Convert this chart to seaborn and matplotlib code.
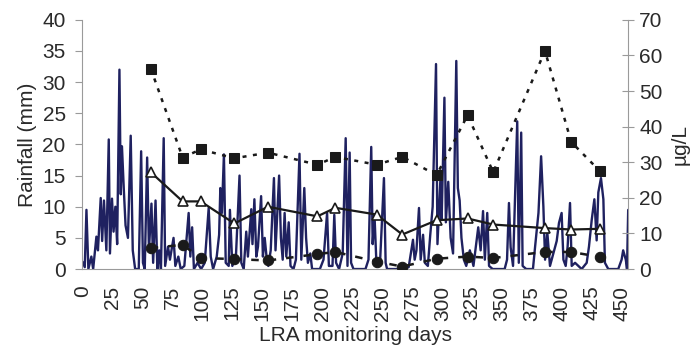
import matplotlib
matplotlib.use("Agg")
import matplotlib.pyplot as plt
import seaborn as sns
import pandas as pd

# ---------------- data ----------------
rain_day = [0, 2, 3.4, 5, 7.5, 9, 11.7, 13, 15.3, 16.5, 18, 20, 22, 23, 24.7, 26, 27.5, 29, 30.9, 32, 33,
            34.5, 36, 38, 40.3, 42, 44, 47, 49, 50.5, 52, 54, 55.5, 57.6, 59, 61, 62.5, 64, 65.5, 67.8, 69,
            71.4, 73, 76, 77.5, 80, 82, 85, 88.6, 90, 91.5, 93, 96, 99, 102, 105.3, 107, 109, 112, 114, 115,
            116.3, 118, 119.5, 122, 123, 125, 128, 131, 132.5, 134.5, 136.6, 138, 140.8, 141.8, 143.4, 145,
            146.4, 149, 150.5, 152, 153.5, 155, 157, 159.7, 161, 164, 165.5, 167, 168.6, 170, 172, 173.5, 176,
            178, 181, 182.5, 185, 186.5, 188, 190, 191.5, 194, 198, 201, 204, 205.5, 208.5, 210, 211.5, 214,
            217, 219.5, 221, 222.8, 224, 226, 229, 233, 236, 238.5, 240.8, 242, 243.5, 245, 248, 251.4, 252.8,
            254, 260, 266, 272, 275.6, 277, 278.5, 280.6, 282, 284, 285.5, 288, 290, 292, 294.8, 296, 298.7,
            299.5, 301.8, 303, 305, 307, 309, 311.7, 313, 314.5, 316, 318, 320, 323, 326, 330, 332, 334, 335.5,
            337.5, 339, 342, 348, 352, 354, 355.6, 357, 359, 362.5, 363.8, 365.8, 367, 370, 375.6, 377.4, 380.2,
            382.4, 384.3, 385.7, 387.6, 389.8, 392.6, 395.4, 397.3, 399.5, 401, 402.9, 404.5, 406.5, 407.9,
            410.7, 413.4, 416.2, 420.4, 422.3, 424.6, 426.8, 428.7, 430.1, 432.3, 434.3, 435.6, 438.4, 446.7,
            449.5, 450.8, 453, 454, 455]
rain_mm = [1.2, 0.3, 9.5, 0, 2, 0, 5.2, 3, 11.4, 4.5, 11, 3, 20.8, 2.5, 11.3, 6, 10, 4, 32, 12, 19.7,
           13, 7, 5, 21.4, 3, 0, 0, 18.9, 1, 0, 17.9, 3, 10.5, 1, 11, 0, 3, 0, 21, 0.5,
           3.6, 1.5, 5, 0.5, 2, 0, 0.5, 9, 2, 6.7, 0, 1, 0, 1, 9.8, 2, 0, 2, 5.5, 13,
           9, 18.4, 1, 0.5, 9.5, 0.5, 2, 15, 1, 0, 6, 2, 9.6, 4, 11.2, 2,
           3.6, 11.7, 2, 5, 2, 0.5, 3, 14.6, 3, 15, 5, 1.5, 9, 2, 7.5, 0.5, 0,
           1.5, 18.5, 1.5, 13, 5, 1, 2.5, 0, 0, 0, 1.5, 9, 0.5, 0.5, 8.7, 1, 0,
           2.5, 21, 0.5, 18.7, 1, 0, 0, 0, 0, 1.5, 19.6, 4, 8.7, 1.5, 0.5, 14.6, 1,
           0, 0, 0, 0.3, 4.7, 1.5, 3, 9.8, 1.5, 5.5, 1, 0.5, 5.5, 10, 32.9, 4, 15.4,
           8, 27.5, 7.5, 14, 5, 2.5, 33.4, 13, 11, 5, 1.5, 0.5, 3, 0.5, 6.7, 3, 9.3, 1.5,
           9, 0.5, 0, 0, 0, 1.5, 10.6, 3.5, 0.5, 23.7, 1, 21.9, 0.5, 0, 0, 3.6, 9,
           18.1, 10, 1.5, 5.8, 0.5, 2.5, 4.5, 7.4, 9, 1.5, 0.5, 3.6, 10.6, 0.5,
           1, 0.5, 0, 1, 3.6, 7.9, 11.2, 4.6, 12.3, 14.6, 11.2, 1, 0, 0,
           1.5, 3, 1.5, 0, 9.5]

sample_day = [57, 83.6, 98.6, 126.7, 154.7, 195.9, 210.9, 245.3, 266.7, 295.3, 321.1, 342.5, 385.6, 407.5, 431.4]
square_ugL = [56.3, 31.3, 33.6, 31.1, 32.7, 29.3, 31.5, 29.3, 31.5, 26.4, 43.2, 27.2, 61.3, 35.7, 27.5]
triangle_ugL = [27.2, 19.0, 19.0, 12.8, 17.5, 14.8, 17.2, 15.3, 9.7, 13.7, 14.2, 12.5, 11.5, 11.1, 11.3]
circle_ugL = [5.9, 6.8, 3.1, 2.8, 2.4, 4.2, 4.8, 2.1, 0.7, 2.9, 3.5, 3.1, 4.8, 4.8, 3.4]

x_ticks = list(range(0, 451, 25))
left_ticks = list(range(0, 41, 5))
right_ticks = list(range(0, 71, 10))

# ---------------- plot ----------------
sns.set_style("white")
plt.rcParams["font.family"] = ["Liberation Sans", "DejaVu Sans"]
FS = 15
gray = "#9a9a9a"
txt = "#2a2a2a"

fig = plt.figure(figsize=(6.98, 3.54), dpi=100)
ax = fig.add_axes([0.118, 0.24, 0.782, 0.704])

rain = pd.DataFrame({"day": rain_day, "mm": rain_mm})
sns.lineplot(data=rain, x="day", y="mm", ax=ax, color="#1f2160", lw=1.7,
             estimator=None, sort=False)
ax.set_xlim(0, 455)
ax.set_ylim(0, 40)
ax.set_xticks(x_ticks)
ax.set_xticklabels([str(t) for t in x_ticks], rotation=90, fontsize=FS, color=txt)
ax.set_yticks(left_ticks)
ax.set_yticklabels([str(t) for t in left_ticks], fontsize=FS, color=txt)
ax.set_ylabel("Rainfall (mm)", fontsize=FS, color=txt, labelpad=4)
ax.set_xlabel("LRA monitoring days", fontsize=FS, color=txt, labelpad=4)
ax.tick_params(axis="y", direction="out", length=5, width=0.8, color=gray, pad=7)
ax.tick_params(axis="x", direction="out", length=5, width=0.8, color=gray, pad=7)

ax2 = ax.twinx()
samples = pd.DataFrame({"day": sample_day, "sq": square_ugL, "tri": triangle_ugL, "cir": circle_ugL})
sns.lineplot(data=samples, x="day", y="sq", ax=ax2, color="#1a1a1a", lw=1.8, marker="s", markersize=7.5,
             markeredgecolor="#1a1a1a", markerfacecolor="#1a1a1a", estimator=None, sort=False,
             linestyle=(0, (1.6, 2.6)))
sns.lineplot(data=samples, x="day", y="tri", ax=ax2, color="#1a1a1a", lw=1.6, marker="^", markersize=7,
             markeredgecolor="#1a1a1a", markerfacecolor="white", markeredgewidth=1.2, estimator=None, sort=False)
sns.lineplot(data=samples, x="day", y="cir", ax=ax2, color="#1a1a1a", lw=1.8, marker="o", markersize=7.5,
             markeredgecolor="#1a1a1a", markerfacecolor="#1a1a1a", estimator=None, sort=False,
             linestyle=(0, (3, 4)))
ax2.set_ylim(0, 70)
ax2.set_yticks(right_ticks)
ax2.set_yticklabels([str(t) for t in right_ticks], fontsize=FS, color=txt)
ax2.set_ylabel("µg/L", fontsize=FS, color=txt, labelpad=6, rotation=90)
ax2.tick_params(axis="y", direction="inout", length=8, width=0.8, color=gray, pad=4)
ax2.set_xlim(0, 455)

for a in (ax, ax2):
    a.spines["top"].set_visible(False)
    for s in ("left", "right", "bottom"):
        a.spines[s].set_color(gray)
        a.spines[s].set_linewidth(0.8)
ax.spines["right"].set_visible(False)
ax2.spines["left"].set_visible(False)
ax2.spines["bottom"].set_visible(False)

fig.savefig("out.png", dpi=100)
